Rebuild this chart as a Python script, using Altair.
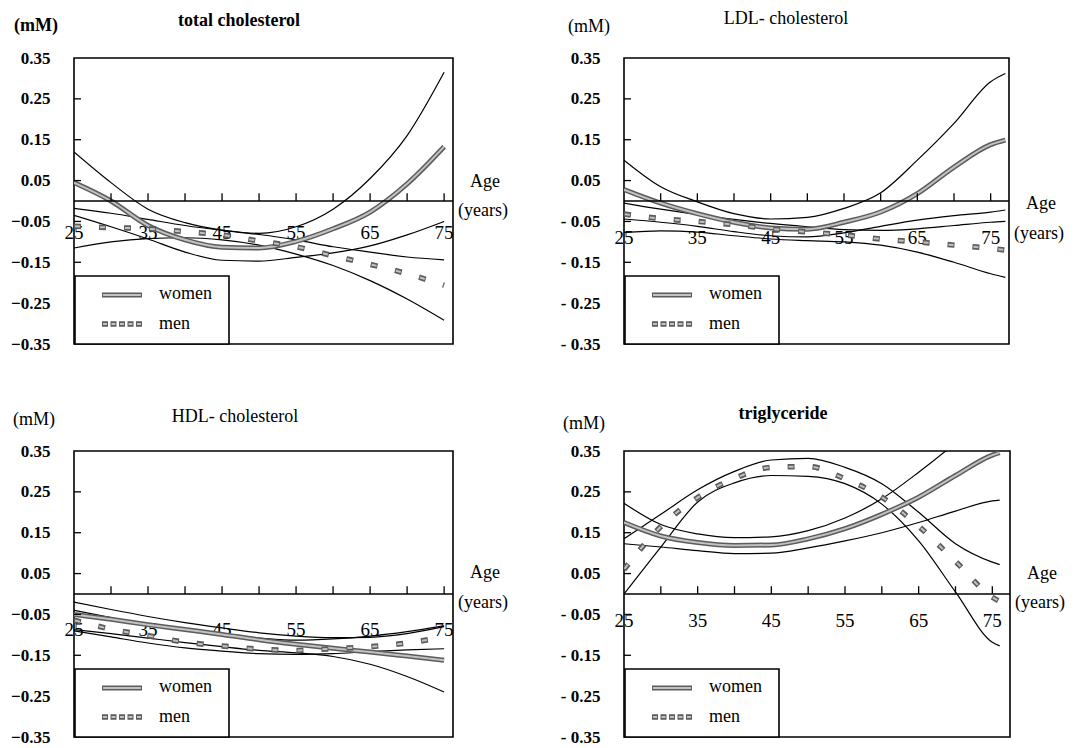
import altair as alt
import pandas as pd

FONT = "Liberation Serif"
H = 286

AGES = [25, 30, 35, 40, 45, 50, 55, 60, 65, 70, 75]

# ---- total cholesterol ----
TC_AGES = AGES
TC_WOMEN = [0.045, 0.0, -0.06, -0.095, -0.113, -0.115, -0.099, -0.068, -0.027, 0.042, 0.133]
TC_WOMEN_UP = [0.12, 0.045, -0.02, -0.053, -0.071, -0.079, -0.063, -0.02, 0.055, 0.16, 0.315]
TC_WOMEN_LO = [-0.035, -0.063, -0.093, -0.125, -0.145, -0.147, -0.138, -0.127, -0.11, -0.083, -0.05]
TC_MEN = [-0.062, -0.065, -0.068, -0.075, -0.083, -0.098, -0.112, -0.134, -0.155, -0.178, -0.206]
TC_MEN_UP = [-0.018, -0.03, -0.045, -0.06, -0.072, -0.082, -0.095, -0.112, -0.125, -0.137, -0.144]
TC_MEN_LO = [-0.115, -0.1, -0.092, -0.09, -0.095, -0.108, -0.13, -0.158, -0.195, -0.24, -0.292]

# ---- LDL-cholesterol ----
LDL_AGES = AGES + [77]
LDL_WOMEN = [0.028, -0.005, -0.031, -0.052, -0.066, -0.069, -0.052, -0.027, 0.018, 0.083, 0.138, 0.149]
LDL_WOMEN_UP = [0.1, 0.035, -0.002, -0.031, -0.044, -0.04, -0.018, 0.02, 0.1, 0.19, 0.292, 0.312]
LDL_WOMEN_LO = [-0.044, -0.052, -0.062, -0.075, -0.085, -0.088, -0.078, -0.062, -0.047, -0.036, -0.027, -0.022]
LDL_MEN = [-0.032, -0.043, -0.05, -0.058, -0.068, -0.076, -0.083, -0.093, -0.1, -0.108, -0.116, -0.12]
LDL_MEN_UP = [-0.005, -0.02, -0.033, -0.045, -0.055, -0.063, -0.07, -0.072, -0.068, -0.06, -0.052, -0.05]
LDL_MEN_LO = [-0.077, -0.073, -0.076, -0.085, -0.093, -0.097, -0.1, -0.108, -0.125, -0.15, -0.178, -0.187]

# ---- HDL-cholesterol ----
HDL_AGES = AGES
HDL_WOMEN = [-0.05, -0.062, -0.075, -0.087, -0.099, -0.112, -0.123, -0.133, -0.142, -0.152, -0.162]
HDL_WOMEN_UP = [-0.02, -0.038, -0.055, -0.07, -0.083, -0.095, -0.103, -0.107, -0.106, -0.097, -0.08]
HDL_WOMEN_LO = [-0.087, -0.097, -0.108, -0.119, -0.129, -0.138, -0.144, -0.153, -0.172, -0.202, -0.24]
HDL_MEN = [-0.064, -0.086, -0.102, -0.118, -0.127, -0.135, -0.138, -0.134, -0.129, -0.12, -0.105]
HDL_MEN_UP = [-0.04, -0.058, -0.075, -0.09, -0.1, -0.108, -0.113, -0.11, -0.103, -0.092, -0.078]
HDL_MEN_LO = [-0.09, -0.105, -0.12, -0.132, -0.14, -0.146, -0.148, -0.146, -0.141, -0.137, -0.134]

# ---- triglyceride ----
TG_AGES = AGES + [76]
TG_WOMEN = [0.175, 0.142, 0.126, 0.119, 0.12, 0.135, 0.16, 0.195, 0.237, 0.29, 0.34, 0.346]
TG_WOMEN_UP = [0.222, 0.17, 0.147, 0.138, 0.14, 0.155, 0.186, 0.233, 0.298, 0.37, 0.45, 0.47]
TG_WOMEN_LO = [0.123, 0.115, 0.106, 0.099, 0.1, 0.113, 0.13, 0.15, 0.175, 0.203, 0.228, 0.23]
TG_MEN = [0.06, 0.165, 0.236, 0.283, 0.31, 0.312, 0.282, 0.237, 0.166, 0.08, -0.008, -0.018]
TG_MEN_UP = [0.135, 0.195, 0.255, 0.3, 0.328, 0.332, 0.31, 0.27, 0.2, 0.123, 0.078, 0.072]
TG_MEN_LO = [0.0, 0.115, 0.225, 0.272, 0.29, 0.288, 0.27, 0.22, 0.13, 0.005, -0.118, -0.127]

Y_TICKS = [0.35, 0.25, 0.15, 0.05, -0.05, -0.15, -0.25, -0.35]
INNER_TICKS = [0.25, 0.15, 0.05, -0.05, -0.15, -0.25]
X_TICKS = [30, 35, 40, 45, 50, 55, 60, 65, 70, 75]
X_LABELS = [25, 35, 45, 55, 65, 75]

DARK = "#5c5c5c"
LIGHT = "#c2c2c2"


def long_df(ages, series):
    rows = []
    for key, vals in series.items():
        for a, v in zip(ages, vals):
            rows.append({"age": a, "value": v, "series": key})
    return pd.DataFrame(rows)


def single():
    return pd.DataFrame({"k": [0]})


def panel(W, title, title_bold, title_x, title_y, mm_bold, mm_x, mm_y, ages,
          women, women_up, women_lo, men, men_up, men_lo, xmax,
          label_y, age_dy, years_dy, spaced_minus):
    xs = alt.Scale(domain=[25, xmax], nice=False, zero=False)
    ys = alt.Scale(domain=[-0.35, 0.35], nice=False, zero=False)
    if spaced_minus:
        lexpr = "datum.value < 0 ? '- ' + format(-datum.value, '.2f') : format(datum.value, '.2f')"
    else:
        lexpr = "format(datum.value, '.2f')"
    yaxis = alt.Axis(values=Y_TICKS, ticks=False, domain=False, grid=False,
                     labelPadding=24, labelFont=FONT, labelFontSize=17,
                     labelFontWeight="bold", labelColor="black", title=None,
                     labelExpr=lexpr, labelOverlap=False, labelFlush=False)

    def X(f="age"):
        return alt.X(f"{f}:Q", scale=xs, axis=None)

    def Y(f="value"):
        return alt.Y(f"{f}:Q", scale=ys, axis=yaxis)

    ci = long_df(ages, {"wu": women_up, "wl": women_lo, "mu": men_up, "ml": men_lo})
    wdf = long_df(ages, {"w": women})
    mdf = long_df(ages, {"m": men})

    layers = []
    # x tick labels
    layers.append(alt.Chart(pd.DataFrame({"age": X_LABELS,
                                          "value": [label_y] * len(X_LABELS),
                                          "label": [str(v) for v in X_LABELS]}))
                  .mark_text(font=FONT, fontSize=19, color="black", baseline="middle")
                  .encode(x=X(), y=Y(), text="label:N"))
    # CI lines
    layers.append(alt.Chart(ci).mark_line(color="black", strokeWidth=1.2,
                                          interpolate="monotone", clip=True)
                  .encode(x=X(), y=Y(), detail="series:N"))
    # women
    layers.append(alt.Chart(wdf).mark_line(color=DARK, strokeWidth=5,
                                           interpolate="monotone", clip=True)
                  .encode(x=X(), y=Y()))
    layers.append(alt.Chart(wdf).mark_line(color=LIGHT, strokeWidth=2,
                                           interpolate="monotone", clip=True)
                  .encode(x=X(), y=Y()))
    # men
    layers.append(alt.Chart(mdf).mark_line(color=DARK, strokeWidth=5.5, strokeDash=[7, 18],
                                           strokeCap="butt", interpolate="monotone", clip=True)
                  .encode(x=X(), y=Y()))
    layers.append(alt.Chart(mdf).mark_line(color=LIGHT, strokeWidth=2, strokeDash=[5, 20],
                                           strokeDashOffset=-1, strokeCap="butt",
                                           interpolate="monotone", clip=True)
                  .encode(x=X(), y=Y()))
    # zero axis line
    layers.append(alt.Chart(pd.DataFrame({"value": [0.0]}))
                  .mark_rule(color="black", strokeWidth=1.6)
                  .encode(y=Y(), x=alt.value(0), x2=alt.value(W)))
    # x ticks pointing up
    layers.append(alt.Chart(pd.DataFrame({"age": X_TICKS, "value": [0.0] * len(X_TICKS),
                                          "top": [0.019] * len(X_TICKS)}))
                  .mark_rule(color="black", strokeWidth=1.3)
                  .encode(x=X(), y=Y(), y2=alt.Y2("top:Q")))
    # inner y ticks
    layers.append(alt.Chart(pd.DataFrame({"value": INNER_TICKS}))
                  .mark_rule(color="black", strokeWidth=1.3)
                  .encode(y=Y(), x=alt.value(0), x2=alt.value(7)))
    # legend box
    layers.append(alt.Chart(single()).mark_rect(fill="white", stroke="black", strokeWidth=1.6)
                  .encode(x=alt.value(1), x2=alt.value(155), y=alt.value(H - 68), y2=alt.value(H)))
    layers.append(alt.Chart(single()).mark_rule(color=DARK, strokeWidth=5)
                  .encode(x=alt.value(28), x2=alt.value(68), y=alt.value(H - 49)))
    layers.append(alt.Chart(single()).mark_rule(color=LIGHT, strokeWidth=2)
                  .encode(x=alt.value(29), x2=alt.value(67), y=alt.value(H - 49)))
    layers.append(alt.Chart(single()).mark_rule(color=DARK, strokeWidth=5.5, strokeDash=[6, 2.5],
                                                strokeCap="butt")
                  .encode(x=alt.value(28), x2=alt.value(68), y=alt.value(H - 20)))
    layers.append(alt.Chart(single()).mark_rule(color=LIGHT, strokeWidth=2, strokeDash=[4, 4.5],
                                                strokeDashOffset=-1, strokeCap="butt")
                  .encode(x=alt.value(28), x2=alt.value(68), y=alt.value(H - 20)))
    layers.append(alt.Chart(single()).mark_text(text="women", font=FONT, fontSize=18,
                                                align="left", baseline="middle", color="black")
                  .encode(x=alt.value(85), y=alt.value(H - 50)))
    layers.append(alt.Chart(single()).mark_text(text="men", font=FONT, fontSize=18,
                                                align="left", baseline="middle", color="black")
                  .encode(x=alt.value(85), y=alt.value(H - 20)))
    # titles and unit labels
    layers.append(alt.Chart(single()).mark_text(text=title, font=FONT, fontSize=18,
                                                fontWeight="bold" if title_bold else "normal",
                                                align="center", baseline="middle", color="black")
                  .encode(x=alt.value(title_x), y=alt.value(title_y)))
    layers.append(alt.Chart(single()).mark_text(text="(mM)", font=FONT, fontSize=18,
                                                fontWeight="bold" if mm_bold else "normal",
                                                align="center", baseline="middle", color="black")
                  .encode(x=alt.value(mm_x), y=alt.value(mm_y)))
    layers.append(alt.Chart(single()).mark_text(text="Age", font=FONT, fontSize=18,
                                                align="center", baseline="middle", color="black")
                  .encode(x=alt.value(W + 32), y=alt.value(H / 2 + age_dy)))
    layers.append(alt.Chart(single()).mark_text(text="(years)", font=FONT, fontSize=18,
                                                align="center", baseline="middle", color="black")
                  .encode(x=alt.value(W + 30), y=alt.value(H / 2 + years_dy)))

    return alt.layer(*layers).properties(width=W, height=H)


p1 = panel(379, "total cholesterol", True, 165, -37, True, -38, -32, TC_AGES,
           TC_WOMEN, TC_WOMEN_UP, TC_WOMEN_LO, TC_MEN, TC_MEN_UP, TC_MEN_LO,
           76.2, -0.078, -19, 10, False)
p2 = panel(385, "LDL- cholesterol", False, 162, -39, False, -35, -31, LDL_AGES,
           LDL_WOMEN, LDL_WOMEN_UP, LDL_WOMEN_LO, LDL_MEN, LDL_MEN_UP, LDL_MEN_LO,
           77.5, -0.09, 3, 33, True)
p3 = panel(379, "HDL- cholesterol", False, 161, -34, False, -40, -31, HDL_AGES,
           HDL_WOMEN, HDL_WOMEN_UP, HDL_WOMEN_LO, HDL_MEN, HDL_MEN_UP, HDL_MEN_LO,
           76.2, -0.089, -21, 9, False)
p4 = panel(386, "triglyceride", True, 159, -37, False, -40, -27, TG_AGES,
           TG_WOMEN, TG_WOMEN_UP, TG_WOMEN_LO, TG_MEN, TG_MEN_UP, TG_MEN_LO,
           77.4, -0.066, -20, 9, True)

chart = alt.vconcat(
    alt.hconcat(p1, p2, spacing=50),
    alt.hconcat(p3, p4, spacing=50),
    spacing=51,
).properties(
    padding={"left": 1, "top": 1, "right": 1, "bottom": 1}
).configure_view(stroke="black", strokeWidth=1.6)

chart.save("out.html", embed_options={"renderer": "svg", "actions": False})
